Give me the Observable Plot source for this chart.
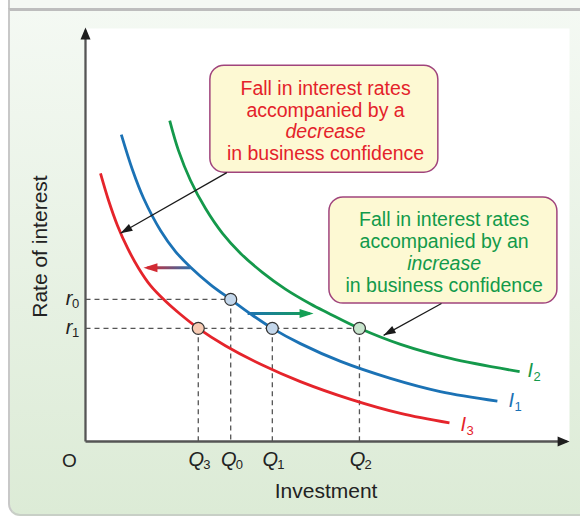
<!DOCTYPE html>
<html>
<head>
<meta charset="utf-8">
<script src="https://cdn.jsdelivr.net/npm/d3@7"></script>
<script src="https://cdn.jsdelivr.net/npm/@observablehq/plot@0.6"></script>
<style>
html,body{margin:0;padding:0;background:#fff;}
#wrap{position:relative;width:580px;height:517px;overflow:hidden;}
#strip{position:absolute;left:8px;top:0;width:580px;height:8px;background:#f4f8f3;border-left:2px solid #c8c8c8;}
#panel{position:absolute;left:8px;top:8px;width:590px;height:503px;background:linear-gradient(#f4f9f3,#dcebd6);border-top:3px solid #bdbdbd;border-left:2px solid #c8c8c8;border-bottom:2px solid #c8cfc6;border-bottom-left-radius:12px;}
#chart{position:absolute;left:0;top:0;}
</style>
</head>
<body>
<div id="wrap"><div id="strip"></div><div id="panel"></div><div id="chart"></div></div>
<script>
const FONT = "'Liberation Sans', Arial, Helvetica, sans-serif";

// Investment schedules: [investment, rate of interest] on 0–100 axes
const curveI1 = [[7.4,74.3],[9.7,65.8],[12.0,58.9],[15.5,51.1],[18.6,46.0],[21.7,42.2],[25.8,38.0],[30.0,34.4],[34.1,30.9],[38.6,27.4],[44.4,23.7],[52.7,19.4],[63.0,15.3],[73.3,12.1],[85.1,9.8]];
const curveI2 = [[17.4,77.7],[19.2,70.5],[21.7,63.2],[24.8,56.4],[28.3,50.4],[32.0,45.6],[36.6,40.9],[41.3,36.9],[46.5,33.3],[50.0,31.2],[56.6,27.4],[65.1,23.5],[75.4,20.1],[89.7,16.9]];
const curveI3 = [[3.1,64.9],[4.75,58.4],[6.6,52.3],[8.7,46.8],[11.0,41.9],[13.4,37.8],[16.5,34.0],[19.6,30.8],[23.3,27.4],[28.9,23.2],[36.2,18.7],[44.4,14.5],[54.8,10.2],[65.1,6.8],[75.2,4.5]];
const curveNames = ["I1", "I2", "I3"];
const curveSubs = ["1", "2", "3"];
const curveLabelX = [87.4, 91.3, 77.5];
const curveLabelY = [9.9, 17.2, 4.1];

// tick labels on the axes
const qSubs = ["3", "0", "1", "2"];
const qValues = [23.3, 30.0, 38.6, 56.6];
const rSubs = ["0", "1"];
const rValues = [34.4, 27.4];
const originLabel = "O";
const xTitle = "Investment";
const yTitle = "Rate of interest";
const xTitleAt = 49.7;
const yTitleAt = 47.2;

// equilibrium points
const pointQ = [23.3, 30.0, 38.6, 56.6];
const pointR = [27.4, 34.4, 27.4, 27.4];
const pointCurve = ["I3", "I1", "I1", "I2"];

// shift arrows
const shiftNames = ["decrease", "increase"];
const shiftFrom = [[21.7, 42.1], [33.5, 31.0]];
const shiftTo = [[12.8, 42.1], [46.3, 31.0]];

// annotation boxes
const boxX1 = [25.8, 50.4];
const boxX2 = [72.9, 97.5];
const boxY1 = [65.1, 33.4];
const boxY2 = [91.0, 59.1];
const boxTextX = [49.6, 74.1];
const boxLines = [
  ["Fall in interest rates", "accompanied by a", "decrease", "in business confidence"],
  ["Fall in interest rates", "accompanied by an", "increase", "in business confidence"]
];
const boxLineY = [[85.4, 80.1, 74.9, 69.6], [53.7, 48.3, 43.0, 37.8]];
const boxItalicLine = 2;
const pointerFrom = [[29.2, 65.1], [73.55, 33.4]];
const pointerTo = [[7.23, 50.4], [61.6, 25.7]];

// axis extents
const axisEnds = [[0, 99.5], [99.4, 0]];

// ---- styles ----
const curveColor = {I1: "#1b72b5", I2: "#14994b", I3: "#e5242b"};
const pointFill = {I1: "#c4d7eb", I2: "#c8e5cd", I3: "#f8cbb3"};
const boxTextColor = ["#e4222a", "#129a4a"];

const curves = [curveI1, curveI2, curveI3];
const curveMarks = curves.map((c, i) => Plot.line(c, {
  x: d => d[0], y: d => d[1], stroke: curveColor[curveNames[i]], strokeWidth: 2.8,
  curve: "catmull-rom", strokeLinecap: "butt"
}));

const points = pointQ.map((q, i) => ({q, r: pointR[i], c: pointCurve[i]}));
const dashes = points.map(p => ({x1: p.q, y1: p.r, x2: p.q, y2: 0}))
  .concat(rValues.map(r => ({x1: 0, y1: r, x2: d3.max(points.filter(p => p.r === r), p => p.q), y2: r})));

const boxTextRows = [];
boxLines.forEach((lines, b) => lines.forEach((t, j) => boxTextRows.push({b, t, italic: j === boxItalicLine, x: boxTextX[b], y: boxLineY[b][j]})));

const curveLabels = curveNames.map((n, i) => ({n, s: curveSubs[i], x: curveLabelX[i], y: curveLabelY[i]}));

const txt = {fontFamily: FONT};

const svg = Plot.plot({
  width: 580, height: 517,
  marginLeft: 85, marginRight: 11, marginTop: 28, marginBottom: 76,
  x: {domain: [0, 100], axis: null},
  y: {domain: [0, 100], axis: null},
  color: {type: "identity"},
  style: {background: "transparent", fontFamily: FONT, overflow: "visible"},
  marks: [
    Plot.frame({fill: "white", stroke: "none"}),
    Plot.link(dashes, {x1: "x1", y1: "y1", x2: "x2", y2: "y2", stroke: "#555", strokeWidth: 1.3, strokeDasharray: "5,4"}),
    ...curveMarks,
    Plot.link([0], {x1: () => shiftFrom[0][0], y1: () => shiftFrom[0][1], x2: () => shiftTo[0][0], y2: () => shiftTo[0][1], stroke: "url(#gradShift0)", strokeWidth: 3, strokeLinecap: "butt"}),
    Plot.link([1], {x1: () => shiftFrom[1][0], y1: () => shiftFrom[1][1], x2: () => shiftTo[1][0], y2: () => shiftTo[1][1], stroke: "url(#gradShift1)", strokeWidth: 3, strokeLinecap: "butt"}),
    Plot.dot(points, {x: "q", y: "r", r: 6, fill: d => pointFill[d.c], stroke: "#333", strokeWidth: 1.2}),
    Plot.rect([0, 1], {x1: i => boxX1[i], x2: i => boxX2[i], y1: i => boxY1[i], y2: i => boxY2[i], fill: "#fdf9d3", stroke: "#a0447c", strokeWidth: 1.5, rx: 14, ry: 14}),
    Plot.link([0, 1], {x1: i => pointerFrom[i][0], y1: i => pointerFrom[i][1], x2: i => pointerTo[i][0], y2: i => pointerTo[i][1], stroke: "#1a1a1a", strokeWidth: 1.2}),
    Plot.text(boxTextRows.filter(d => !d.italic), {x: "x", y: "y", text: "t", fill: d => boxTextColor[d.b], fontSize: 19.5, ...txt}),
    Plot.text(boxTextRows.filter(d => d.italic), {x: "x", y: "y", text: "t", fill: d => boxTextColor[d.b], fontSize: 19.5, fontStyle: "italic", ...txt}),
    // curve labels
    Plot.text(curveLabels, {x: "x", y: "y", text: () => "I", fill: d => curveColor[d.n], fontSize: 20, fontStyle: "italic", textAnchor: "start", ...txt}),
    Plot.text(curveLabels, {x: "x", y: "y", text: "s", fill: d => curveColor[d.n], fontSize: 13, textAnchor: "start", dx: 6, dy: 6, ...txt}),
    // Q tick labels
    Plot.text(qValues, {x: d => d, y: () => 0, text: () => "Q", fill: "#222", fontSize: 20, fontStyle: "italic", dx: -2, dy: 18, ...txt}),
    Plot.text(qValues, {x: d => d, y: () => 0, text: (d, i) => qSubs[i], fill: "#222", fontSize: 13, textAnchor: "start", dx: 5, dy: 23, ...txt}),
    // r tick labels
    Plot.text(rValues, {x: () => 0, y: d => d, text: () => "r", fill: "#222", fontSize: 20, fontStyle: "italic", textAnchor: "end", dx: -13, dy: -1, ...txt}),
    Plot.text(rValues, {x: () => 0, y: d => d, text: (d, i) => rSubs[i], fill: "#222", fontSize: 13, textAnchor: "start", dx: -13.5, dy: 4.5, ...txt}),
    Plot.text([originLabel], {x: () => 0, y: () => 0, text: d => d, fill: "#222", fontSize: 19, dx: -16, dy: 19, ...txt}),
    Plot.text([xTitle], {x: () => xTitleAt, y: () => 0, text: d => d, fill: "#222", fontSize: 21, dy: 50, ...txt}),
    Plot.text([yTitle], {x: () => 0, y: () => yTitleAt, text: d => d, fill: "#222", fontSize: 21, rotate: -90, dx: -45.5, ...txt}),
    // axes
    Plot.link(axisEnds, {x1: () => 0, y1: () => 0, x2: d => d[0], y2: d => d[1], stroke: "#555", strokeWidth: 2.3, strokeLinecap: "butt"})
  ]
});

// arrowheads and gradients
const ns = "http://www.w3.org/2000/svg";
const defs = document.createElementNS(ns, "defs");
function addMarker(id, color, len, hw, ref) {
  const m = document.createElementNS(ns, "marker");
  m.setAttribute("id", id);
  m.setAttribute("markerUnits", "userSpaceOnUse");
  m.setAttribute("markerWidth", len + 10);
  m.setAttribute("markerHeight", 2 * hw + 4);
  m.setAttribute("refX", ref);
  m.setAttribute("refY", 0);
  m.setAttribute("orient", "auto");
  m.setAttribute("overflow", "visible");
  const p = document.createElementNS(ns, "path");
  p.setAttribute("d", `M${-len},${-hw}L0,0L${-len},${hw}Z`);
  p.setAttribute("fill", color);
  p.setAttribute("stroke", "none");
  m.appendChild(p);
  defs.appendChild(m);
}
addMarker("mAxis", "#1e1e1e", 12, 5, -3);
addMarker("mPointer", "#1a1a1a", 12, 4, 0);
addMarker("mShift0", "#d22a33", 14, 4.5, -4);
addMarker("mShift1", "#14a055", 14, 4.5, -4);
const xs = svg.scale("x"), ys = svg.scale("y");
function addGrad(id, from, to, c0, c1) {
  const g = document.createElementNS(ns, "linearGradient");
  g.setAttribute("id", id);
  g.setAttribute("gradientUnits", "userSpaceOnUse");
  g.setAttribute("x1", xs.apply(from[0])); g.setAttribute("y1", ys.apply(from[1]));
  g.setAttribute("x2", xs.apply(to[0])); g.setAttribute("y2", ys.apply(to[1]));
  [[0, c0], [1, c1]].forEach(([o, c]) => {
    const s = document.createElementNS(ns, "stop");
    s.setAttribute("offset", o); s.setAttribute("stop-color", c);
    g.appendChild(s);
  });
  defs.appendChild(g);
}
addGrad("gradShift0", shiftFrom[0], shiftTo[0], "#2f6fab", "#d22a33");
addGrad("gradShift1", shiftFrom[1], shiftTo[1], "#1d72b3", "#14a055");
svg.insertBefore(defs, svg.firstChild);

const linkGroups = svg.querySelectorAll('g[aria-label="link"]');
const markerIds = [null, "mShift0", "mShift1", "mPointer", "mAxis"];
linkGroups.forEach((g, i) => {
  if (!markerIds[i]) return;
  g.querySelectorAll("path").forEach(p => p.setAttribute("marker-end", `url(#${markerIds[i]})`));
});

document.getElementById("chart").appendChild(svg);
</script>
</body>
</html>
